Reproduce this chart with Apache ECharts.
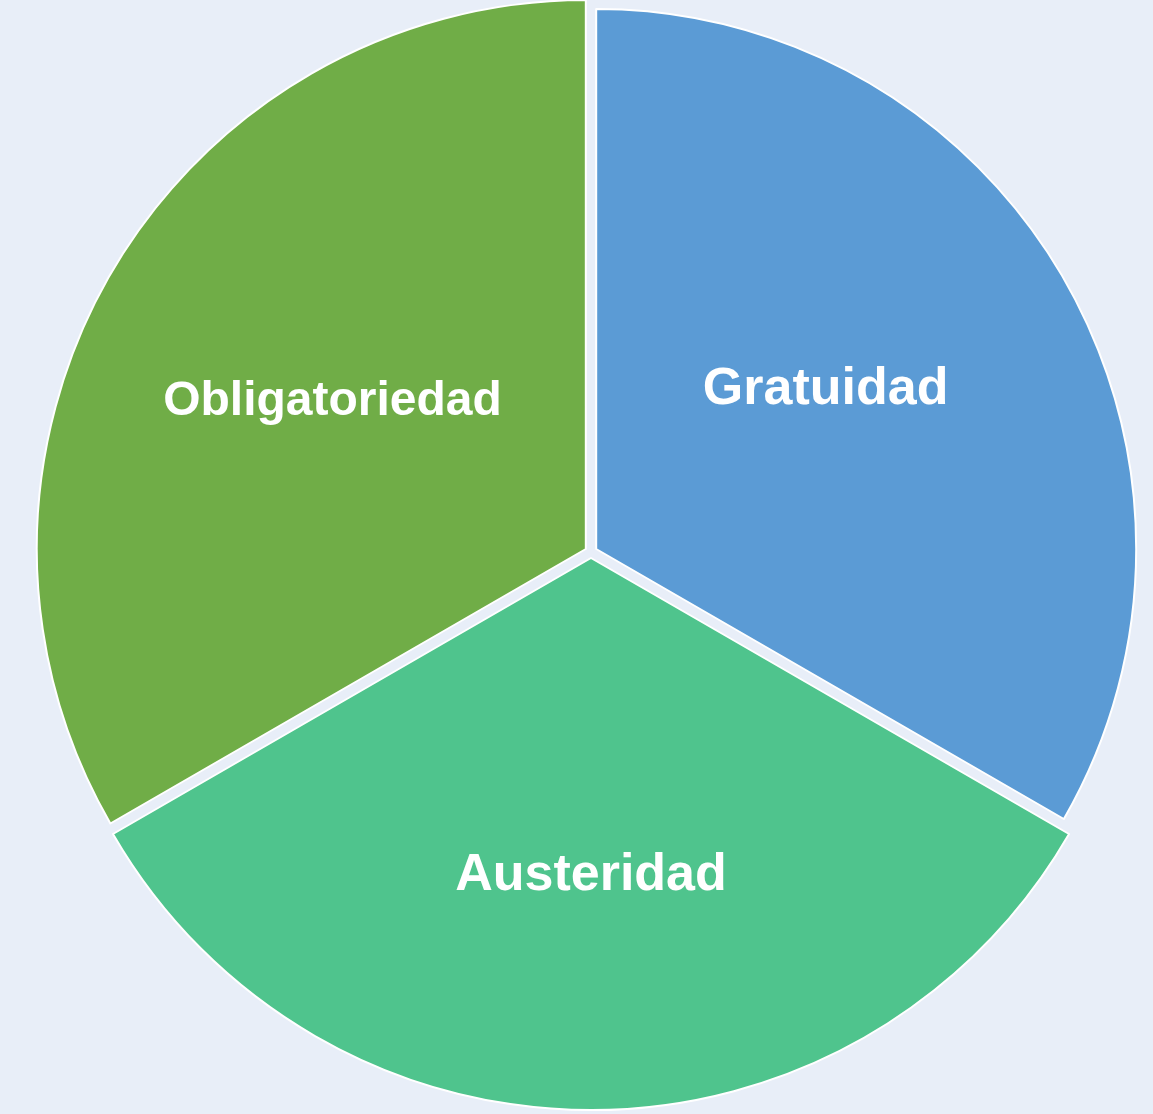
<!DOCTYPE html>
<html>
<head>
<meta charset="utf-8">
<script src="https://cdn.jsdelivr.net/npm/echarts@6/dist/echarts.min.js"></script>
<style>
  html, body { margin: 0; padding: 0; background: #e8eef8; }
  #chart { width: 1153px; height: 1114px; }
</style>
</head>
<body>
<div id="chart"></div>
<script>
// ---- data ----
const categories = ['Gratuidad', 'Austeridad', 'Obligatoriedad'];
const values = [1, 1, 1];

// ---- styles ----
const colors = ['#5b9bd5', '#4fc48d', '#70ad47'];
const sliceRadius = [540, 552, 549];
const labelSizes = [52, 52, 48];
const labelShift = [[-7, -23], [0, 39], [-13, -8]];

const chart = echarts.init(document.getElementById('chart'), null, { renderer: 'canvas' });

const series = categories.map((_, i) => ({
  type: 'pie',
  center: [591, 552],
  radius: [0, sliceRadius[i]],
  startAngle: 90,
  clockwise: true,
  silent: true,
  selectedMode: 'single',
  selectedOffset: 6,
  avoidLabelOverlap: false,
  animation: false,
  emphasis: { disabled: true },
  labelLine: { show: false },
  labelLayout: { dx: labelShift[i][0], dy: labelShift[i][1] },
  data: categories.map((name, j) => ({
    name: name,
    value: values[j],
    selected: j === i,
    itemStyle: j === i
      ? { color: colors[j], borderColor: '#ffffff', borderWidth: 2 }
      : { color: 'rgba(0,0,0,0)', borderWidth: 0 },
    label: {
      show: j === i,
      position: 'inside',
      formatter: '{b}',
      color: '#ffffff',
      fontSize: labelSizes[j],
      fontWeight: 'bold',
      fontFamily: '"Liberation Sans", Arial, sans-serif'
    }
  }))
}));

chart.setOption({
  backgroundColor: '#e8eef8',
  animation: false,
  tooltip: { show: false },
  legend: { show: false },
  series: series
});
</script>
</body>
</html>
